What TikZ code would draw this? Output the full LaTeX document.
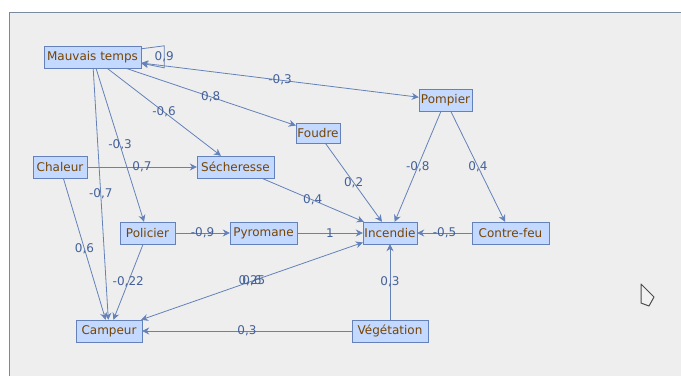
\documentclass[tikz,border=0pt]{standalone}
\usepackage{fontspec}
\setmainfont{DejaVu Sans}
\usetikzlibrary{arrows.meta, positioning}

\definecolor{vfill}{HTML}{C3D9FF}
\definecolor{vline}{HTML}{6482B9}
\definecolor{vtext}{HTML}{774400}
\definecolor{etext}{HTML}{446299}
\definecolor{panel}{HTML}{EEEEEE}
\definecolor{frame}{HTML}{7A8A9C}

\tikzset{
  var/.style={draw=vline, fill=vfill, text=vtext, minimum height=22pt, inner sep=0pt, font=\fontsize{12}{14}\selectfont},
  edge/.style={->, draw=vline, line width=0.8pt},
  wt/.style={text=etext, font=\fontsize{12}{14}\selectfont, inner sep=0pt, midway}
}

\begin{document}
\begin{tikzpicture}[x=1pt, y=-1pt, >={Stealth[length=7pt,width=7pt]}]

\useasboundingbox (0,0) rectangle (681,376);
\fill[white] (0,0) rectangle (681,376);
\fill[panel] (9.5,12.5) rectangle (681,376);
\draw[frame, line width=1pt] (681,12.5) -- (9.5,12.5) -- (9.5,376);

% Variables
\node[var, minimum width=97pt] (mauvais) at (92.5,57) {Mauvais temps};
\node[var, minimum width=53pt] (pompier) at (445.5,100.5) {Pompier};
\node[var, minimum width=44pt, minimum height=20pt] (foudre) at (318,133) {Foudre};
\node[var, minimum width=54pt] (chaleur) at (60,167) {Chaleur};
\node[var, minimum width=77pt] (secheresse) at (235.5,167) {Sécheresse};
\node[var, minimum width=55pt] (policier) at (147.5,233) {Policier};
\node[var, minimum width=67pt] (pyromane) at (263.5,233) {Pyromane};
\node[var, minimum width=54pt] (incendie) at (390,233) {Incendie};
\node[var, minimum width=77pt] (contrefeu) at (510.5,233) {Contre-feu};
\node[var, minimum width=66pt] (campeur) at (109,331) {Campeur};
\node[var, minimum width=76pt] (vegetation) at (390,331) {Végétation};

% Influences of Mauvais temps
\draw[edge] ([yshift=-3pt]mauvais.north east) -- ++(23,-3) -- ++(0,22) node[wt] {0,9} -- ([yshift=5pt]mauvais.south east);
\draw[edge, <->] (mauvais) -- (pompier) node[wt] {-0,3};
\draw[edge] (mauvais) -- (foudre) node[wt] {0,8};
\draw[edge] (mauvais) -- (secheresse) node[wt] {-0,6};
\draw[edge] (mauvais) -- (policier) node[wt] {-0,3};
\draw[edge] (mauvais) -- (campeur) node[wt] {-0,7};

% Chaleur
\draw[edge] (chaleur) -- (secheresse) node[wt] {0,7};
\draw[edge] (chaleur) -- (campeur) node[wt] {0,6};

% Towards Incendie
\draw[edge] (secheresse) -- (incendie) node[wt] {0,4};
\draw[edge] (foudre) -- (incendie) node[wt] {0,2};
\draw[edge] (pompier) -- (incendie) node[wt] {-0,8};
\draw[edge] (pompier) -- (contrefeu) node[wt] {0,4};
\draw[edge] (contrefeu) -- (incendie) node[wt] {-0,5};
\draw[edge] (pyromane) -- (incendie) node[wt] {1};
\draw[edge] (vegetation) -- (incendie) node[wt] {0,3};

% Policier, Campeur
\draw[edge] (policier) -- (pyromane) node[wt] {-0,9};
\draw[edge] (policier) -- (campeur) node[wt] {-0,22};
\draw[edge, <->] (campeur) -- (incendie) node[wt] {0,25} node[wt] {0,6};
\draw[edge] (vegetation) -- (campeur) node[wt] {0,3};

% mouse pointer
\draw[black!70, fill=gray!10, line join=round, line width=1pt] (641,284) -- (641,303) -- (649,306) -- (654,297) -- cycle;

\end{tikzpicture}
\end{document}
